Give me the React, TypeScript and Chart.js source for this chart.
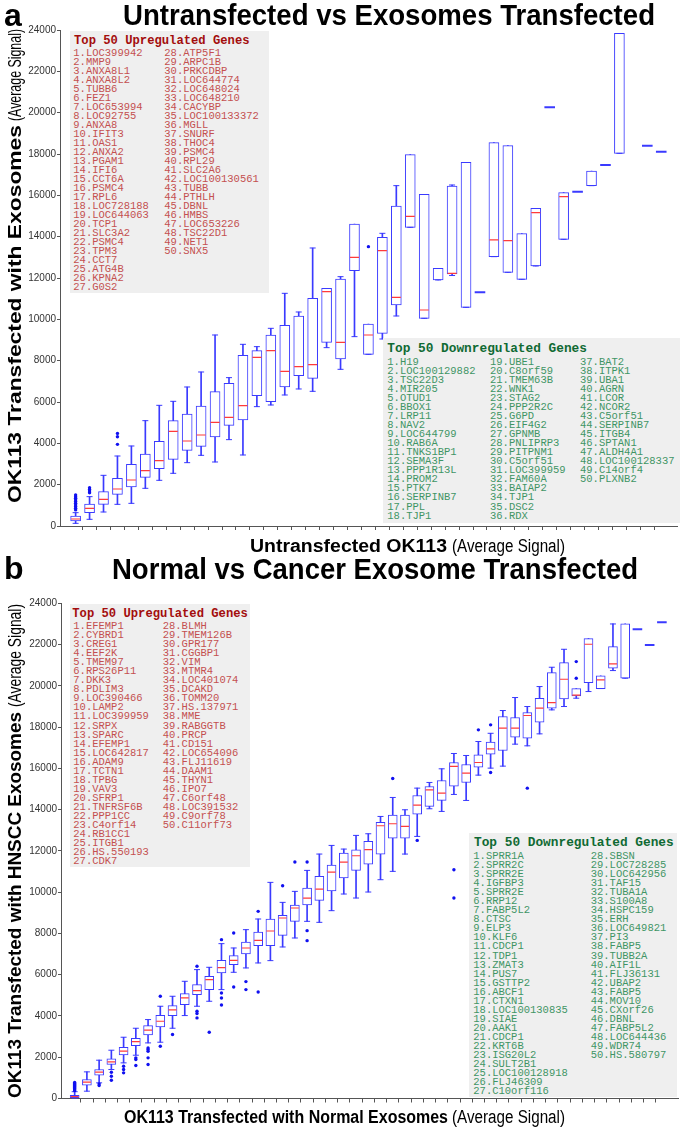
import React, { useEffect, useRef } from "react";
import { Chart, registerables } from "chart.js";
Chart.register(...registerables);

// ---------------- Panel a data (43 categories, index 40 empty) ----------------
const aLo = [129, 323, 677, 1048, 1097, 1823, 2210, 2549, 3065, 3420, 3097, 4178, 3436, 5775, 5855, 6339, 6630, 6517, 8630, 7581, 9162, 8307, 9049, 10162, 14453, 10049, 11904, 12120, 10581, 11307, 13033, 12275, 11936, 12581, 20259, 13872, 16178, 16469, 17469, 18033, null, 18404, 18114];
const aQ1 = [242, 645, 1048, 1532, 1887, 2355, 2774, 3226, 3662, 3855, 4307, 4871, 5129, 6307, 6017, 6726, 7275, 7146, 8888, 8081, 12356, 8307, 9323, 10694, 14453, 10049, 11904, 12194, 10581, 11307, 13033, 12275, 11936, 12581, 20259, 13872, 16178, 16469, 17469, 18033, null, 18404, 18114];
const aMed = [339, 855, 1290, 1790, 2226, 2678, 3161, 4581, 4113, 4403, 5016, 5258, 5823, 8162, 8484, 7484, 7710, 7807, 11340, 8888, 13001, 9242, 13323, 11065, 14985, 10452, null, 12227, null, 11307, 13840, 13807, null, 15162, 20259, 15936, 16178, null, 17469, null, null, 18404, 18114];
const aQ3 = [484, 1065, 1661, 2307, 2984, 3484, 4097, 5097, 5420, 5807, 6500, 6904, 8259, 8484, 9242, 9710, 10162, 11017, 11501, 11952, 14614, 9775, 13969, 15485, 17969, 16049, 12469, 16453, 17598, 11307, 18549, 18404, 14146, 15372, 20259, 16130, 16178, 17178, 17469, 23840, null, 18404, 18114];
const aHi = [645, 1420, 2452, 3387, 3871, 5097, 5839, 6033, 6726, 7452, 9242, 7178, 8791, 8678, 9565, 11259, 10355, 13452, 11501, 12065, 14614, 9775, 14162, 16469, 17969, 16049, 12469, 16500, 17598, 11307, 18549, 18404, 14146, 15372, 20259, 16130, 16178, 17178, 17469, 23840, null, 18404, 18114];
const aOutliers: [number, number][] = [
  [0, 780], [0, 860], [0, 940], [0, 1020], [0, 1100], [0, 1180], [0, 1260], [0, 1340], [0, 1420], [0, 1500],
  [1, 1610], [1, 1690], [1, 1770], [1, 1850],
  [3, 3950], [3, 4320], [3, 4480],
  [21, 13517],
];

// ---------------- Panel b data (49 categories) ----------------
const bLo = [0, 355, 759, 1404, 1727, 2098, 2695, 2728, 3405, 4019, 4471, 4713, 5278, 6117, 6327, 6569, 6682, 7344, 7779, 8586, 8538, 9103, 9910, 9716, 10007, 10604, 11008, 11847, 12702, 14042, 13913, 14736, 14445, 15672, 16011, 16108, 17173, 17093, 17673, 18835, 18997, 19400, 19723, 19868, 20740, 20369, 22741, 21982, 23080];
const bQ1 = [40, 646, 1130, 1646, 2114, 2566, 3083, 3470, 4019, 4551, 5036, 5278, 6085, 6488, 7005, 7408, 7408, 7909, 8586, 9377, 9603, 10055, 10685, 11056, 11362, 11847, 12621, 12621, 13784, 14155, 14445, 15139, 15317, 16059, 16688, 16866, 17512, 17464, 18238, 18916, 19368, 19513, 20159, 19868, 20853, 20369, 22741, 21982, 23080];
const bMed = [90, 791, 1275, 1775, 2292, 2760, 3309, 3744, 4293, 4874, 5229, 5762, 6343, 6698, 7295, 7667, 8118, 8748, 9232, 9716, 10152, 10975, 11459, 11766, 12057, 13219, 13316, 13187, 14219, 14962, 14800, 16092, 15769, 16285, 16947, 17948, 17948, 18561, 18916, 19191, 20320, 19545, 22016, 20288, 21062, null, 22741, 21982, 23080];
const bQ3 = [150, 920, 1404, 1921, 2486, 2921, 3535, 4035, 4503, 5084, 5520, 5923, 6698, 6924, 7586, 8070, 8699, 8877, 9377, 10200, 10765, 11314, 11895, 12057, 12460, 13380, 13735, 13735, 14687, 15123, 15414, 16285, 16188, 16656, 17270, 18513, 18464, 18706, 19400, 20643, 21127, 19868, 22290, 20481, 21901, 22999, 22741, 21982, 23080];
const bHi = [330, 1291, 1856, 2340, 2970, 3405, 3825, 4471, 4955, 5681, 6246, 6359, 7505, 7295, 8183, 8699, 10475, 9506, 10039, 11056, 11847, 12266, 12089, 12751, 12831, 13670, 14590, 13993, 15042, 15317, 15979, 16721, 16624, 17302, 17700, 18803, 19433, 18997, 19965, 20901, 21772, 19868, 22290, 20481, 22999, 22999, 22741, 21982, 23080];
const bOutliers: [number, number][] = [
  [0, 380], [0, 430], [0, 480], [0, 530], [0, 580], [0, 630], [0, 680], [0, 730], [0, 780],
  [2, 710], [2, 629],
  [3, 1275], [3, 1081], [3, 888],
  [4, 1566], [4, 1404], [4, 1243],
  [5, 1969], [5, 1888], [5, 1598],
  [6, 2453], [6, 2373], [6, 2292], [6, 1969], [6, 1646],
  [7, 4955], [7, 2534],
  [8, 3099],
  [10, 6408], [10, 4229], [10, 4116], [10, 3906],
  [11, 3212],
  [12, 7699], [12, 5116], [12, 4874], [12, 4535],
  [13, 8021], [13, 5407],
  [14, 5665], [14, 5278],
  [15, 9071], [15, 5165],
  [17, 10313],
  [18, 11459],
  [19, 11459], [19, 8134], [19, 7650],
  [26, 15511],
  [28, 12508],
  [31, 11088], [31, 9716],
  [33, 17867],
  [34, 18109], [34, 15801],
  [37, 15042],
  [41, 21175], [41, 20369],
];

const yTicks = [0, 2000, 4000, 6000, 8000, 10000, 12000, 14000, 16000, 18000, 20000, 22000, 24000];

// ---------------- Gene lists ----------------
const upGenesA = ["LOC399942", "MMP9", "ANXA8L1", "ANXA8L2", "TUBB6", "FEZ1", "LOC653994", "LOC92755", "ANXA8", "IFIT3", "OAS1", "ANXA2", "PGAM1", "IFI6", "CCT6A", "PSMC4", "RPL6", "LOC728188", "LOC644063", "TCP1", "SLC3A2", "PSMC4", "TPM3", "CCT7", "ATG4B", "KPNA2", "G0S2", "ATP5F1", "ARPC1B", "PRKCDBP", "LOC644774", "LOC648024", "LOC648210", "CACYBP", "LOC100133372", "MGLL", "SNURF", "THOC4", "PSMC4", "RPL29", "SLC2A6", "LOC100130561", "TUBB", "PTHLH", "DBNL", "HMBS", "LOC653226", "TSC22D1", "NET1", "SNX5"];
const downGenesA = ["H19", "LOC100129882", "TSC22D3", "MIR205", "OTUD1", "BBOX1", "LRP11", "NAV2", "LOC644799", "RAB6A", "TNKS1BP1", "SEMA3F", "PPP1R13L", "PROM2", "PTK7", "SERPINB7", "PPL", "TJP1", "UBE1", "C8orf59", "TMEM63B", "WNK1", "STAG2", "PPP2R2C", "G6PD", "EIF4G2", "GPNMB", "PNLIPRP3", "PITPNM1", "C5orf51", "LOC399959", "FAM60A", "BAIAP2", "TJP1", "DSC2", "RDX", "BAT2", "ITPK1", "UBA1", "AGRN", "LCOR", "NCOR2", "C5orf51", "SERPINB7", "ITGB4", "SPTAN1", "ALDH4A1", "LOC100128337", "C14orf4", "PLXNB2"];
const upGenesB = ["EFEMP1", "CYBRD1", "CREG1", "EEF2K", "TMEM97", "RPS26P11", "DKK3", "PDLIM3", "LOC390466", "LAMP2", "LOC399959", "SRPX", "SPARC", "EFEMP1", "LOC642817", "ADAM9", "TCTN1", "TPBG", "VAV3", "SFRP1", "TNFRSF6B", "PPP1CC", "C4orf14", "RB1CC1", "ITGB1", "HS.550193", "CDK7", "BLMH", "TMEM126B", "GPR177", "CGGBP1", "VIM", "MTMR4", "LOC401074", "DCAKD", "TOMM20", "HS.137971", "MME", "RABGGTB", "PRCP", "CD151", "LOC654096", "FLJ11619", "DAAM1", "THYN1", "IPO7", "C6orf48", "LOC391532", "C9orf78", "C11orf73"];
const downGenesB = ["SPRR1A", "SPRR2C", "SPRR2E", "IGFBP3", "SPRR2E", "RRP12", "FABP5L2", "CTSC", "ELP3", "KLF6", "CDCP1", "TDP1", "ZMAT3", "PUS7", "GSTTP2", "ABCF1", "CTXN1", "LOC100130835", "SIAE", "AAK1", "CDCP1", "KRT6B", "ISG20L2", "SULT2B1", "LOC100128918", "FLJ46309", "C10orf116", "SBSN", "LOC728285", "LOC642956", "TAF15", "TUBA1A", "S100A8", "HSPC159", "ERH", "LOC649821", "PI3", "FABP5", "TUBB2A", "AIF1L", "FLJ36131", "UBAP2", "FABP5", "MOV10", "CXorf26", "DBNL", "FABP5L2", "LOC644436", "WDR74", "HS.580797"];

// ---------------- helpers ----------------
const SANS = "'Liberation Sans', Arial, Helvetica, sans-serif";
const MONO = "'Liberation Mono', 'Courier New', monospace";
const BLUE = "#3a3aff";
const DOT = "#1010f0";
const RED = "#ff3a3a";

let mctx: CanvasRenderingContext2D | null = null;
function textWidth(text: string, font: string) {
  if (!mctx) mctx = document.createElement("canvas").getContext("2d");
  mctx!.font = font;
  return mctx!.measureText(text).width;
}

function FitText(props: { text: string; start: number; baseline: number; width: number; size: number; bold?: boolean; vertical?: boolean; color?: string }) {
  const { text, start, baseline, width, size, bold, vertical, color } = props;
  const font = `${bold ? "bold " : ""}${size}px ${SANS}`;
  const s = width / textWidth(text, font);
  const style: any = {
    position: "absolute",
    whiteSpace: "nowrap",
    fontFamily: SANS,
    fontWeight: bold ? 700 : 400,
    fontSize: size,
    lineHeight: `${size}px`,
    color: color || "#000",
    transformOrigin: "0 0",
  };
  if (!vertical) {
    style.left = start;
    style.top = baseline - 0.8465 * size;
    style.transform = `scaleX(${s})`;
  } else {
    style.left = baseline - 0.8465 * size;
    style.top = start;
    style.transform = `rotate(-90deg) scaleX(${s})`;
  }
  return <div style={style}>{text}</div>;
}

function GeneBox(props: {
  genes: string[]; title: string; box: [number, number, number, number];
  titleLeft: number; titleCenter: number; titleSize: number; titleColor: string; textColor: string;
  cols: [number, number, number][]; firstCenter: number; step: number;
}) {
  const { genes, title, box, titleLeft, titleCenter, titleSize, titleColor, textColor, cols, firstCenter, step } = props;
  return (
    <>
      <div style={{ position: "absolute", left: box[0], top: box[1], width: box[2], height: box[3], background: "#efefef" }} />
      <div style={{ position: "absolute", left: titleLeft, top: titleCenter - 7, height: 14, lineHeight: "14px", fontFamily: MONO, fontWeight: 700, fontSize: titleSize, color: titleColor, whiteSpace: "nowrap" }}>{title}</div>
      {cols.map(([left, from, to], ci) => (
        <div key={ci} style={{ position: "absolute", left, top: firstCenter - step / 2, fontFamily: MONO, fontSize: 10.5, color: textColor, whiteSpace: "nowrap" }}>
          {genes.slice(from - 1, to).map((g, k) => (
            <div key={k} style={{ height: step, lineHeight: `${step}px` }}>{`${from + k}.${g}`}</div>
          ))}
        </div>
      ))}
    </>
  );
}

type Num = number | null;
function buildDatasets(lo: Num[], q1: Num[], med: Num[], q3: Num[], hi: Num[], outs: [number, number][], boxW: number) {
  const whisk: any[] = [], boxes: any[] = [], caps: any[] = [], meds: any[] = [], singles: any[] = [];
  for (let i = 0; i < q1.length; i++) {
    const a = q1[i], b = q3[i];
    if (a == null || b == null) continue;
    if (a === b) { singles.push({ x: i, y: a }); continue; }
    const l = lo[i] as number, h = hi[i] as number;
    if (l < h) whisk.push({ x: i, y: [l, h] });
    boxes.push({ x: i, y: [a, b] });
    caps.push({ x: i, y: l });
    if (h > b) caps.push({ x: i, y: h });
    if (med[i] != null) meds.push({ x: i, y: med[i] });
  }
  const pts = outs.map(([x, y]) => ({ x, y }));
  return [
    { type: "bar", data: whisk, backgroundColor: BLUE, borderWidth: 0, barThickness: 1, grouped: false, order: 6 },
    { type: "bar", data: boxes, backgroundColor: "#ffffff", borderColor: BLUE, borderWidth: 1, borderSkipped: false, barThickness: boxW, grouped: false, order: 5 },
    { type: "scatter", data: caps, pointStyle: "line", pointRadius: 3, pointBorderColor: BLUE, pointBorderWidth: 1, order: 4 },
    { type: "scatter", data: meds, pointStyle: "line", pointRadius: boxW / 2 - 0.5, pointBorderColor: RED, pointBorderWidth: 1.2, order: 3 },
    { type: "scatter", data: singles, pointStyle: "line", pointRadius: boxW / 2 + 0.3, pointBorderColor: BLUE, pointBorderWidth: 2, order: 2 },
    { type: "scatter", data: pts, pointStyle: "circle", pointRadius: 1.7, pointBackgroundColor: DOT, pointBorderWidth: 0, order: 1 },
  ];
}

function BoxChart(props: {
  top: number; height: number; padTop: number; padBottom: number; yWidth: number; padRight: number;
  xMin: number; xMax: number; n: number; boxW: number;
  lo: Num[]; q1: Num[]; med: Num[]; q3: Num[]; hi: Num[]; outs: [number, number][];
}) {
  const ref = useRef<HTMLCanvasElement>(null);
  useEffect(() => {
    const p = props;
    const chart = new Chart(ref.current as HTMLCanvasElement, {
      type: "scatter",
      data: { datasets: buildDatasets(p.lo, p.q1, p.med, p.q3, p.hi, p.outs, p.boxW) as any },
      options: {
        animation: false,
        responsive: false,
        events: [],
        layout: { padding: { left: 0, right: p.padRight, top: p.padTop, bottom: p.padBottom } },
        plugins: { legend: { display: false }, tooltip: { enabled: false }, title: { display: false } },
        scales: {
          x: {
            type: "linear",
            min: p.xMin,
            max: p.xMax,
            ticks: { display: false, stepSize: 1 },
            grid: { drawOnChartArea: false, drawTicks: true, tickLength: 4, color: "#555" },
            border: { display: true, color: "#555", width: 1 },
            afterBuildTicks: (s: any) => {
              s.ticks = s.ticks.filter((t: any) => Number.isInteger(t.value) && t.value >= 0 && t.value < p.n);
            },
            afterFit: (s: any) => { s.height = 8; },
          },
          y: {
            type: "linear",
            min: yTicks[0],
            max: yTicks[yTicks.length - 1],
            afterBuildTicks: (s: any) => { s.ticks = yTicks.map((v) => ({ value: v })); },
            ticks: { font: { family: SANS, size: 10 }, color: "#333", padding: 1, callback: (v: any) => String(v) },
            grid: { drawOnChartArea: false, drawTicks: true, tickLength: 3, color: "#555" },
            border: { display: true, color: "#555", width: 1 },
            afterFit: (s: any) => { s.width = p.yWidth; },
          },
        },
      } as any,
    });
    return () => chart.destroy();
  }, []);
  return <canvas ref={ref} width={685} height={props.height} style={{ position: "absolute", left: 0, top: props.top, width: 685, height: props.height }} />;
}

export default function App() {
  return (
    <div style={{ position: "absolute", left: 0, top: 0, width: 685, height: 1128, background: "#fff", overflow: "hidden" }}>
      {/* Panel a */}
      <BoxChart top={0} height={545} padTop={30} padBottom={11} yWidth={60} padRight={7}
        xMin={-0.58} xMax={42.64} n={43} boxW={10}
        lo={aLo} q1={aQ1} med={aMed} q3={aQ3} hi={aHi} outs={aOutliers} />
      <div style={{ position: "absolute", left: 4, top: 26 - 0.8465 * 32, fontFamily: SANS, fontWeight: 700, fontSize: 32, lineHeight: "32px" }}>a</div>
      <FitText text="Untransfected vs Exosomes Transfected" start={123} baseline={25} width={532} size={30} bold />
      <FitText text="OK113 Transfected with Exosomes" start={503} baseline={21} width={378} size={19} bold vertical />
      <FitText text="(Average Signal)" start={121} baseline={21} width={92} size={18} vertical />
      <FitText text="Untransfected OK113" start={250} baseline={552} width={197} size={18} bold />
      <FitText text="(Average Signal)" start={452} baseline={552} width={113} size={18} />
      <GeneBox genes={upGenesA} title="Top 50 Upregulated Genes" box={[70, 31, 199, 262]}
        titleLeft={74} titleCenter={40.5} titleSize={12.2} titleColor="#a30d0d" textColor="#c4504f"
        cols={[[73.3, 1, 27], [164.3, 28, 50]]} firstCenter={53.7} step={9.0} />
      <GeneBox genes={downGenesA} title="Top 50 Downregulated Genes" box={[383, 338, 297, 185]}
        titleLeft={387.3} titleCenter={349} titleSize={12.8} titleColor="#0f6a33" textColor="#3f9565"
        cols={[[387.3, 1, 18], [490, 19, 36], [580, 37, 50]]} firstCenter={362.3} step={9.06} />

      {/* Panel b */}
      <BoxChart top={560} height={568} padTop={43.3} padBottom={21.5} yWidth={61} padRight={7}
        xMin={-0.58} xMax={48.78} n={49} boxW={9}
        lo={bLo} q1={bQ1} med={bMed} q3={bQ3} hi={bHi} outs={bOutliers} />
      <div style={{ position: "absolute", left: 4, top: 579 - 0.8465 * 32, fontFamily: SANS, fontWeight: 700, fontSize: 32, lineHeight: "32px" }}>b</div>
      <FitText text="Normal vs Cancer Exosome Transfected" start={112} baseline={579} width={526} size={30} bold />
      <FitText text="OK113 Transfected with HNSCC Exosomes" start={1098} baseline={21} width={386} size={19} bold vertical />
      <FitText text="(Average Signal)" start={707} baseline={21} width={103} size={18} vertical />
      <FitText text="OK113 Transfected with Normal Exosomes" start={124} baseline={1123} width={324} size={18} bold />
      <FitText text="(Average Signal)" start={452} baseline={1123} width={113} size={18} />
      <GeneBox genes={upGenesB} title="Top 50 Upregulated Genes" box={[70, 604, 180, 263]}
        titleLeft={72.3} titleCenter={614} titleSize={12.2} titleColor="#a30d0d" textColor="#c4504f"
        cols={[[73.3, 1, 27], [162.7, 28, 50]]} firstCenter={626.7} step={9.04} />
      <GeneBox genes={downGenesB} title="Top 50 Downregulated Genes" box={[469, 833, 208, 264]}
        titleLeft={474} titleCenter={843.3} titleSize={12.8} titleColor="#0f6a33" textColor="#3f9565"
        cols={[[473.3, 1, 27], [590.7, 28, 50]]} firstCenter={856.7} step={9.04} />
    </div>
  );
}
